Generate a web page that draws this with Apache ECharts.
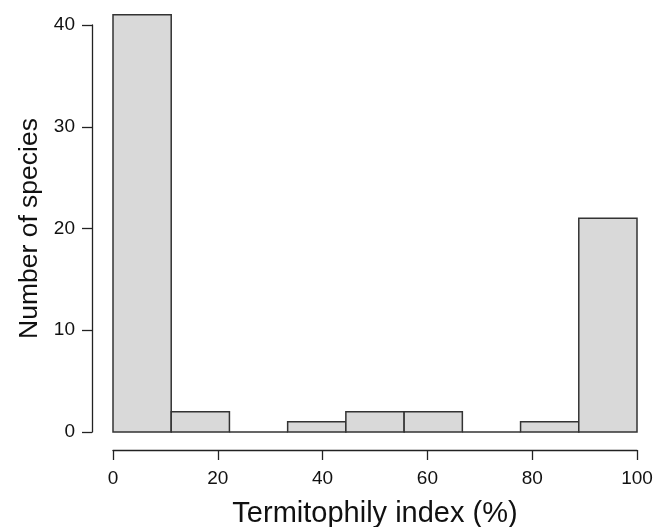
<!DOCTYPE html>
<html>
<head>
<meta charset="utf-8">
<script src="https://cdn.jsdelivr.net/npm/echarts@6/dist/echarts.min.js"></script>
<style>html,body{margin:0;padding:0;background:#fff}#c{width:665px;height:527px}</style>
</head>
<body>
<div id="c"></div>
<script>
var binEdges = [0, 11.11, 22.22, 33.33, 44.44, 55.56, 66.67, 77.78, 88.89, 100];
var counts = [41, 2, 0, 1, 2, 2, 0, 1, 21];
var xTicks = [0, 20, 40, 60, 80, 100];
var yTicks = [0, 10, 20, 30, 40];

var data = counts.map(function (c, i) { return [binEdges[i], binEdges[i + 1], c]; });
var font = '"Liberation Sans", Arial, Helvetica, sans-serif';
var axisColor = '#222';
var hiddenAxis = function (type, idx, min, max) {
  return { type: 'value', gridIndex: idx, min: min, max: max, show: false };
};
var chart = echarts.init(document.getElementById('c'));
chart.setOption({
  animation: false,
  backgroundColor: '#fff',
  grid: [
    { left: 113, right: 28, top: 25, bottom: 95, outerBoundsMode: 'none', containLabel: false },
    { left: 92, right: 28, top: 25, bottom: 95, outerBoundsMode: 'none', containLabel: false },
    { left: 113, right: 28, top: 25, bottom: 77, outerBoundsMode: 'none', containLabel: false }
  ],
  xAxis: [
    hiddenAxis('x', 0, 0, 100),
    hiddenAxis('x', 1, 0, 100),
    {
      type: 'value', gridIndex: 2, min: 0, max: 100, interval: 20,
      name: 'Termitophily index (%)', nameLocation: 'middle', nameGap: 49,
      nameTextStyle: { fontSize: 29, color: '#111', fontFamily: font },
      axisLine: { show: true, lineStyle: { color: axisColor, width: 1.3 } },
      axisTick: { show: true, length: 10, lineStyle: { color: axisColor, width: 1.3 } },
      axisLabel: { fontSize: 19, color: '#111', fontFamily: font, margin: 19,
        formatter: function (v) { return xTicks.indexOf(v) >= 0 ? String(v) : ''; } },
      splitLine: { show: false }
    }
  ],
  yAxis: [
    hiddenAxis('y', 0, 0, 40),
    {
      type: 'value', gridIndex: 1, min: 0, max: 40, interval: 10,
      name: 'Number of species', nameLocation: 'middle', nameGap: 48,
      nameTextStyle: { fontSize: 26.5, color: '#111', fontFamily: font },
      axisLine: { show: true, lineStyle: { color: axisColor, width: 1.3 } },
      axisTick: { show: true, length: 10, lineStyle: { color: axisColor, width: 1.3 } },
      axisLabel: { fontSize: 19, color: '#111', fontFamily: font, margin: 17,
        formatter: function (v) { return yTicks.indexOf(v) >= 0 ? String(v) : ''; } },
      splitLine: { show: false }
    },
    hiddenAxis('y', 2, 0, 40)
  ],
  series: [{
    type: 'custom',
    xAxisIndex: 0, yAxisIndex: 0,
    clip: false,
    data: data,
    renderItem: function (params, api) {
      var p0 = api.coord([api.value(0), 0]);
      var p1 = api.coord([api.value(1), api.value(2)]);
      return {
        type: 'rect',
        shape: { x: p0[0], y: p1[1], width: p1[0] - p0[0], height: p0[1] - p1[1] },
        style: { fill: '#d9d9d9', stroke: '#333', lineWidth: 1.5 }
      };
    }
  }]
});
</script>
</body>
</html>
